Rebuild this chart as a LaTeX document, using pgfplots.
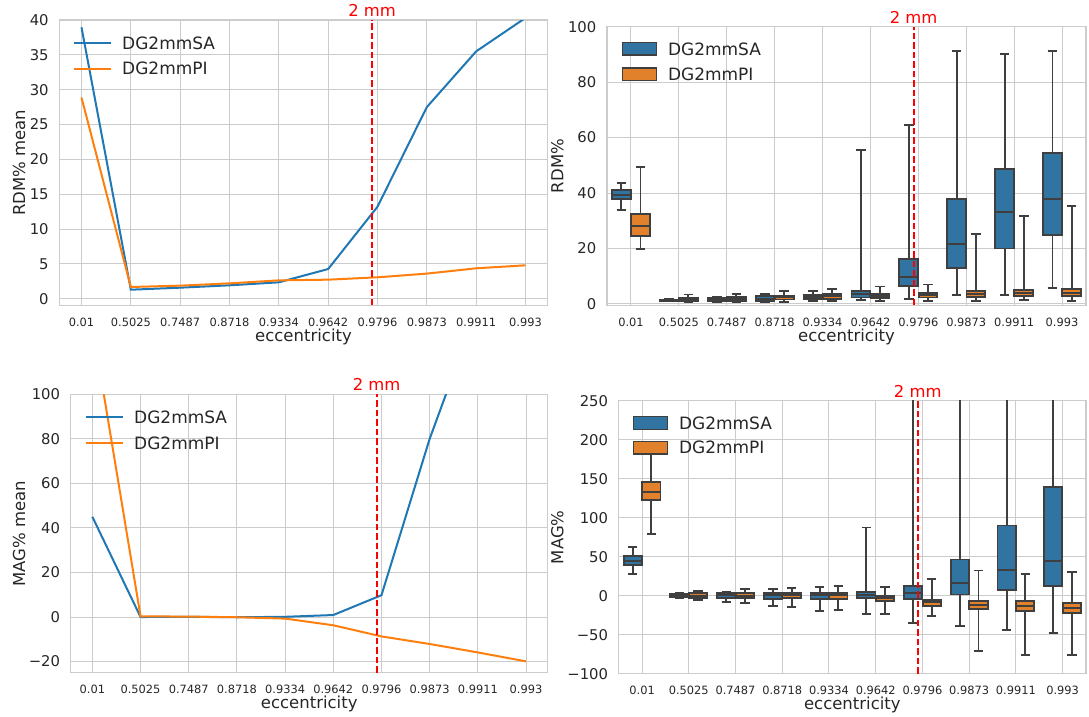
\documentclass[border=0pt]{standalone}
\usepackage{pgfplots}
\pgfplotsset{compat=1.18}
\usepackage{pgfplotstable}
\usepgfplotslibrary{statistics}
\usepackage{fontspec}
\setmainfont{DejaVu Sans}

\definecolor{lblue}{HTML}{1F77B4}
\definecolor{lorange}{HTML}{FF7F0E}
\definecolor{bblue}{HTML}{3274A1}
\definecolor{borange}{HTML}{E1812C}
\definecolor{bgray}{HTML}{3F3F3F}
\definecolor{gridc}{HTML}{CCCCCC}
\definecolor{txt}{HTML}{262626}
\definecolor{mmred}{HTML}{FF0000}

\pgfplotstableread{
lw lq med uq uw
33.9 37.8 39.4 41.0 43.6
0.9 1.1 1.3 1.5 1.7
0.7 1.0 1.5 2.0 2.6
0.8 1.1 1.9 2.8 3.7
1.1 1.7 2.5 3.3 4.8
1.3 2.3 3.5 4.7 55.5
1.8 6.6 9.7 16.3 64.4
3.1 13.1 21.5 37.7 91.2
3.1 20.0 33.0 48.8 90.3
5.8 24.9 37.7 54.6 91.2
}\rdmSA

\pgfplotstableread{
lw lq med uq uw
19.9 24.6 28.0 32.3 49.5
0.7 1.2 1.7 2.2 3.4
0.7 1.1 1.8 2.5 3.7
0.7 1.6 2.3 3.0 4.8
1.1 1.9 2.8 3.5 5.5
1.1 2.0 3.0 3.6 6.3
1.2 2.3 3.1 3.9 7.0
1.2 2.5 3.6 4.5 25.1
1.4 2.8 3.9 4.9 31.6
1.2 2.9 4.0 5.3 35.3
}\rdmPI

\pgfplotstableread{
lw lq med uq uw
28.2 39.1 44.8 51.1 62.6
-2.8 -1.6 0.1 2.3 3.2
-7.5 -2.4 0.5 3.2 4.9
-12.7 -3.7 0.5 3.2 8.3
-19.1 -3.7 0.5 3.2 11.3
-23.4 -3.3 0.6 4.9 87.4
-34.5 -3.7 4.0 12.1 258
-39.1 1.5 16.0 46.4 258
-43.4 7.9 33.2 90.0 258
-47.7 13.0 44.3 139.7 258
}\magSA

\pgfplotstableread{
lw lq med uq uw
79.3 123.0 133.2 146.0 192
-5.4 -2.4 0.1 3.2 6.6
-9.3 -3.3 0.1 3.2 8.7
-14.4 -3.3 0.5 3.6 10.4
-17.8 -4.1 0.5 3.2 13.0
-23.4 -7.1 -3.3 -0.3 11.3
-25.5 -12.7 -8.4 -5.4 22.0
-70.8 -16.5 -12.2 -6.3 32.3
-76.4 -19.1 -12.7 -7.1 28.0
-75.9 -22.5 -15.2 -8.8 30.2
}\magPI

\pgfplotsset{
  sbcommon/.style={
    scale only axis, anchor=north west,
    axis line style={draw=gridc, line width=1.4pt},
    xmajorgrids, ymajorgrids,
    major grid style={draw=gridc, line width=1pt},
    tick style={draw=none}, major tick length=0pt,
    xtick={0,...,9},
    xticklabels={0.01,0.5025,0.7487,0.8718,0.9334,0.9642,0.9796,0.9873,0.9911,0.993},
    xticklabel style={font=\fontsize{11.4}{13}\selectfont, text=txt, inner sep=0pt, anchor=north, yshift=-12.3pt},
    yticklabel style={font=\fontsize{14.8}{17}\selectfont, text=txt, inner sep=0pt, anchor=east, xshift=-10.5pt},
    xlabel={eccentricity},
    label style={font=\fontsize{16.5}{19}\selectfont, text=txt, inner sep=0pt},
    xlabel style={at={(axis description cs:0.5,0)}, anchor=base, yshift=-36pt},
    legend cell align=left,
    legend style={at={(axis description cs:0,1)}, anchor=north west, draw=none, fill=none, inner sep=0pt, row sep=13.3pt, column sep=11.5pt, font=\fontsize{17}{20}\selectfont, text=txt, nodes={inner sep=0pt, text height=12.4pt, text depth=0pt}},
  },
  sblines/.style={
    legend image code/.code={\path[draw=none, fill=none, use as bounding box] (0pt,-6.2pt) rectangle (36.5pt,6.2pt); \draw[##1] (0pt,0pt) -- (36.5pt,0pt);},
  },
  sbboxes/.style={
    legend image code/.code={\path[draw=none, fill=none, use as bounding box] (0pt,-6.2pt) rectangle (34pt,6.2pt); \draw[##1, line width=1.2pt] (0pt,-6.2pt) rectangle (34pt,6.2pt);},
  },
  sbbox/.style={forget plot, draw=bgray, line width=1.9pt, solid, boxplot/draw direction=y, boxplot/box extend=0.39, boxplot/whisker extend=0.2},
  redline/.style={forget plot, mmred, line width=2pt, dash pattern=on 6.5pt off 3pt},
}

\newcommand{\boxset}[3]{%
  \pgfplotsinvokeforeach{0,...,9}{
    \pgfplotstablegetelem{##1}{lw}\of#1\let\bLW\pgfplotsretval
    \pgfplotstablegetelem{##1}{lq}\of#1\let\bLQ\pgfplotsretval
    \pgfplotstablegetelem{##1}{med}\of#1\let\bMED\pgfplotsretval
    \pgfplotstablegetelem{##1}{uq}\of#1\let\bUQ\pgfplotsretval
    \pgfplotstablegetelem{##1}{uw}\of#1\let\bUW\pgfplotsretval
    \edef\bcmd{\noexpand\addplot[sbbox, fill=#2, boxplot prepared={draw position=##1#3, lower whisker=\bLW, lower quartile=\bLQ, median=\bMED, upper quartile=\bUQ, upper whisker=\bUW}] coordinates {};}
    \bcmd
  }}

\begin{document}
\begin{tikzpicture}
\path[use as bounding box] (0pt,0pt) rectangle (1089pt,-716pt);

% top left
\begin{axis}[sbcommon, sblines, at={(59.3pt,-20pt)}, width=488.4pt, height=285.3pt,
  xmin=-0.45, xmax=9.45, ymin=-0.95, ymax=40,
  ytick={0,5,...,40}, yticklabels={0,5,10,15,20,25,30,35,40},
  ylabel={RDM\% mean}, ylabel style={at={(axis description cs:-0.0702,0.5)}, anchor=base},
  legend style={xshift=14.7pt, yshift=-16.5pt}]
\addplot[lblue, line width=2pt] coordinates {(0,38.95) (1,1.29) (2,1.58) (3,1.92) (4,2.35) (5,4.26) (6,13.2) (7,27.5) (8,35.5) (9,40.3)};
\addlegendentry{DG2mmSA}
\addplot[lorange, line width=2pt] coordinates {(0,28.87) (1,1.68) (2,1.87) (3,2.2) (4,2.63) (5,2.73) (6,3.07) (7,3.6) (8,4.36) (9,4.79)};
\addlegendentry{DG2mmPI}
\addplot[redline] coordinates {(5.89,-0.95) (5.89,40)};
\coordinate (m1) at (axis cs:5.89,40);
\end{axis}
\node[anchor=base, text=mmred, font=\fontsize{16.4}{19}\selectfont, inner sep=0pt, yshift=3.4pt] at (m1) {2 mm};

% top right
\begin{axis}[sbcommon, sbboxes, at={(607pt,-26.7pt)}, width=479pt, height=278.6pt,
  xmin=-0.5, xmax=9.5, ymin=-0.5, ymax=100,
  ytick={0,20,...,100}, yticklabels={0,20,40,60,80,100},
  ylabel={RDM\%}, ylabel style={at={(axis description cs:-0.0912,0.5)}, anchor=base},
  legend style={xshift=15.3pt, yshift=-15.75pt, row sep=12.9pt}]
\addlegendimage{fill=bblue, draw=bgray}
\addlegendentry{DG2mmSA}
\addlegendimage{fill=borange, draw=bgray}
\addlegendentry{DG2mmPI}
\boxset{\rdmSA}{bblue}{-0.2}
\boxset{\rdmPI}{borange}{+0.2}
\addplot[redline] coordinates {(5.9,-0.5) (5.9,100)};
\coordinate (m2) at (axis cs:5.9,100);
\end{axis}
\node[anchor=base, text=mmred, font=\fontsize{16.4}{19}\selectfont, inner sep=0pt, yshift=3.4pt] at (m2) {2 mm};

% bottom left
\begin{axis}[sbcommon, sblines, at={(70.7pt,-394.3pt)}, width=477pt, height=278.4pt,
  xmin=-0.45, xmax=9.45, ymin=-25, ymax=100,
  ytick={-20,0,20,...,100}, yticklabels={−20,0,20,40,60,80,100},
  ylabel={MAG\% mean}, ylabel style={at={(axis description cs:-0.0958,0.5)}, anchor=base},
  legend style={xshift=15.3pt, yshift=-16.5pt}]
\addplot[lblue, line width=2pt] coordinates {(0,45.0) (1,0.0) (2,0.1) (3,-0.1) (4,0.1) (5,0.9) (6,9.8) (7,80) (8,139) (9,190)};
\addlegendentry{DG2mmSA}
\addplot[lorange, line width=2pt] coordinates {(0,131) (1,0.3) (2,0.2) (3,-0.1) (4,-0.7) (5,-3.7) (6,-8.7) (7,-12.1) (8,-15.9) (9,-19.9)};
\addlegendentry{DG2mmPI}
\addplot[redline] coordinates {(5.9,-25) (5.9,100)};
\coordinate (m3) at (axis cs:5.9,100);
\end{axis}
\node[anchor=base, text=mmred, font=\fontsize{16.4}{19}\selectfont, inner sep=0pt, yshift=3.4pt] at (m3) {2 mm};

% bottom right
\begin{axis}[sbcommon, sbboxes, at={(618.7pt,-400.7pt)}, width=467.3pt, height=273pt,
  xmin=-0.5, xmax=9.5, ymin=-100, ymax=250,
  ytick={-100,-50,0,50,100,150,200,250}, yticklabels={−100,−50,0,50,100,150,200,250},
  ylabel={MAG\%}, ylabel style={at={(axis description cs:-0.1186,0.5)}, anchor=base},
  legend style={xshift=14.6pt, yshift=-15.8pt, row sep=12.4pt}]
\addlegendimage{fill=bblue, draw=bgray}
\addlegendentry{DG2mmSA}
\addlegendimage{fill=borange, draw=bgray}
\addlegendentry{DG2mmPI}
\boxset{\magSA}{bblue}{-0.2}
\boxset{\magPI}{borange}{+0.2}
\addplot[redline] coordinates {(5.9,-100) (5.9,250)};
\coordinate (m4) at (axis cs:5.9,250);
\end{axis}
\node[anchor=base, text=mmred, font=\fontsize{16.4}{19}\selectfont, inner sep=0pt, yshift=3.4pt] at (m4) {2 mm};
\end{tikzpicture}
\end{document}
